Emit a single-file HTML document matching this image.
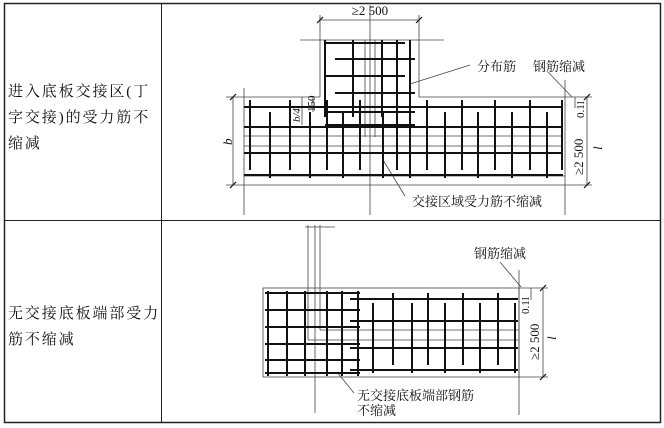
<!DOCTYPE html>
<html><head><meta charset="utf-8"><style>
body{margin:0;background:#fff}
svg{display:block}
text{font-family:"Liberation Serif","Noto Serif CJK SC",serif;fill:#111}
.c{font-family:"Liberation Serif","Noto Serif CJK SC",serif;font-size:15px;letter-spacing:1.9px}
</style></head><body>
<svg width="664" height="428" viewBox="0 0 664 428" xmlns="http://www.w3.org/2000/svg">
<g stroke="#222" fill="none">
<rect x="4.5" y="3.5" width="656" height="419" stroke-width="1.5"/>
<line x1="161.5" y1="3" x2="161.5" y2="423" stroke-width="1"/>
<line x1="4" y1="220.5" x2="660" y2="220.5" stroke-width="1"/>
</g>
<text class="c" x="8" y="96">进入底板交接区(丁</text>
<text class="c" x="8" y="122">字交接)的受力筋不</text>
<text class="c" x="8" y="148">缩减</text>
<text class="c" x="8" y="318">无交接底板端部受力</text>
<text class="c" x="8" y="344">筋不缩减</text>

<!-- top diagram -->
<g stroke="#444" stroke-width="0.8" fill="none">
<line x1="370" y1="5" x2="370" y2="215"/>
<line x1="300" y1="40" x2="444" y2="40"/>
<line x1="320" y1="40" x2="320" y2="97"/>
<line x1="419" y1="40" x2="419" y2="97"/>
<line x1="244" y1="97" x2="320" y2="97"/>
<line x1="419" y1="97" x2="566" y2="97"/>
<line x1="244" y1="88" x2="244" y2="215"/>
<line x1="565" y1="80" x2="565" y2="215"/>
<line x1="244" y1="176" x2="565" y2="176"/>
<line x1="244" y1="185" x2="565" y2="185"/>
<line x1="244" y1="136" x2="563" y2="136"/>
<line x1="244" y1="146" x2="563" y2="146"/>
<line x1="365" y1="40" x2="365" y2="137"/>
<line x1="375" y1="40" x2="375" y2="137"/>
<!-- dims -->
<line x1="320" y1="20" x2="419" y2="20"/>
<line x1="320" y1="15" x2="320" y2="40"/>
<line x1="419" y1="15" x2="419" y2="40"/>
<line x1="233" y1="97" x2="233" y2="185"/>
<line x1="226" y1="97" x2="244" y2="97"/>
<line x1="226" y1="185" x2="244" y2="185"/>
<line x1="587" y1="97" x2="587" y2="185"/>
<line x1="565" y1="97" x2="592" y2="97"/>
<line x1="565" y1="185" x2="592" y2="185"/>
<line x1="575" y1="97" x2="575" y2="108"/>
<line x1="302" y1="97" x2="302" y2="125"/>
<line x1="313" y1="97" x2="313" y2="112"/>
<!-- leaders -->
<line x1="470" y1="65" x2="410" y2="84"/>
<line x1="548" y1="72" x2="572" y2="97"/>
<line x1="383" y1="160" x2="405" y2="196"/>
</g>
<g stroke="#111" stroke-width="1.2">
<line x1="317" y1="23" x2="323" y2="17"/>
<line x1="416" y1="23" x2="422" y2="17"/>
<line x1="230" y1="100" x2="236" y2="94"/>
<line x1="230" y1="188" x2="236" y2="182"/>
<line x1="584" y1="100" x2="590" y2="94"/>
<line x1="584" y1="188" x2="590" y2="182"/>
</g>
<g stroke="#111" stroke-width="2" fill="none">
<line x1="325" y1="43" x2="405" y2="43"/>
<line x1="335" y1="59" x2="415" y2="59"/>
<line x1="325" y1="76" x2="405" y2="76"/>
<line x1="335" y1="93" x2="415" y2="93"/>
<line x1="325" y1="112" x2="415" y2="112"/>
<line x1="325" y1="125" x2="415" y2="125"/>
<line x1="325" y1="40" x2="325" y2="117"/>
<line x1="353" y1="40" x2="353" y2="117"/>
<line x1="382" y1="40" x2="382" y2="117"/>
<line x1="397" y1="40" x2="397" y2="117"/>
<line x1="410" y1="40" x2="410" y2="117"/>
<line x1="244" y1="107" x2="563" y2="107"/>
<line x1="244" y1="127" x2="563" y2="127"/>
<line x1="244" y1="153" x2="563" y2="153"/>
<line x1="244" y1="175" x2="563" y2="175"/>
<line x1="250" y1="100" x2="250" y2="170"/>
<line x1="270" y1="112" x2="270" y2="178"/>
<line x1="290" y1="100" x2="290" y2="170"/>
<line x1="310" y1="112" x2="310" y2="178"/>
<line x1="327" y1="100" x2="327" y2="170"/>
<line x1="343" y1="112" x2="343" y2="178"/>
<line x1="360" y1="100" x2="360" y2="170"/>
<line x1="383" y1="112" x2="383" y2="178"/>
<line x1="397" y1="100" x2="397" y2="170"/>
<line x1="410" y1="112" x2="410" y2="178"/>
<line x1="427" y1="100" x2="427" y2="170"/>
<line x1="445" y1="112" x2="445" y2="178"/>
<line x1="462" y1="100" x2="462" y2="170"/>
<line x1="478" y1="112" x2="478" y2="178"/>
<line x1="495" y1="100" x2="495" y2="170"/>
<line x1="512" y1="112" x2="512" y2="178"/>
<line x1="530" y1="100" x2="530" y2="170"/>
<line x1="547" y1="112" x2="547" y2="178"/>
<line x1="562" y1="100" x2="562" y2="170"/>
</g>
<text x="370" y="15" font-size="13" text-anchor="middle">≥2 500</text>
<text x="477" y="71" font-size="13">分布筋</text>
<text x="533" y="71" font-size="13">钢筋缩减</text>
<text x="412" y="206" font-size="13">交接区域受力筋不缩减</text>
<text transform="translate(232,145) rotate(-90)" font-size="13" font-style="italic">b</text>
<text transform="translate(300,122) rotate(-90)" font-size="11" font-style="italic">b/4</text>
<text transform="translate(315,112) rotate(-90)" font-size="11">150</text>
<text transform="translate(584,118) rotate(-90)" font-size="11">0.1l</text>
<text transform="translate(583,175) rotate(-90)" font-size="13">≥2 500</text>
<text transform="translate(602,150) rotate(-90)" font-size="13" font-style="italic">l</text>

<!-- bottom diagram -->
<g stroke="#444" stroke-width="0.8" fill="none">
<rect x="263" y="288" width="256" height="89"/>
<line x1="519" y1="270" x2="519" y2="415"/>
<line x1="305" y1="227" x2="335" y2="227"/>
<line x1="308" y1="225" x2="308" y2="340"/>
<line x1="308" y1="340" x2="519" y2="340"/>
<line x1="315" y1="225" x2="315" y2="413"/>
<line x1="320" y1="225" x2="320" y2="330"/>
<line x1="320" y1="330" x2="519" y2="330"/>
<line x1="531" y1="288" x2="531" y2="300"/>
<line x1="543" y1="288" x2="543" y2="377"/>
<line x1="519" y1="288" x2="548" y2="288"/>
<line x1="519" y1="377" x2="548" y2="377"/>
<line x1="500" y1="262" x2="521" y2="287"/>
<line x1="337" y1="372" x2="354" y2="393"/>
</g>
<g stroke="#111" stroke-width="1.2">
<line x1="540" y1="291" x2="546" y2="285"/>
<line x1="540" y1="380" x2="546" y2="374"/>
</g>
<g stroke="#111" stroke-width="2" fill="none">
<line x1="265" y1="293" x2="360" y2="293"/>
<line x1="265" y1="310" x2="360" y2="310"/>
<line x1="265" y1="327" x2="360" y2="327"/>
<line x1="265" y1="344" x2="360" y2="344"/>
<line x1="265" y1="360" x2="360" y2="360"/>
<line x1="265" y1="373" x2="360" y2="373"/>
<line x1="268" y1="291" x2="268" y2="376"/>
<line x1="287" y1="291" x2="287" y2="376"/>
<line x1="305" y1="291" x2="305" y2="376"/>
<line x1="327" y1="291" x2="327" y2="376"/>
<line x1="342" y1="291" x2="342" y2="376"/>
<line x1="358" y1="291" x2="358" y2="376"/>
<line x1="350" y1="299" x2="518" y2="299"/>
<line x1="350" y1="321" x2="518" y2="321"/>
<line x1="350" y1="348" x2="518" y2="348"/>
<line x1="350" y1="370" x2="518" y2="370"/>
<line x1="373" y1="303" x2="373" y2="373"/>
<line x1="393" y1="293" x2="393" y2="365"/>
<line x1="412" y1="303" x2="412" y2="373"/>
<line x1="428" y1="293" x2="428" y2="365"/>
<line x1="445" y1="303" x2="445" y2="373"/>
<line x1="463" y1="293" x2="463" y2="365"/>
<line x1="480" y1="303" x2="480" y2="373"/>
<line x1="498" y1="293" x2="498" y2="365"/>
<line x1="515" y1="303" x2="515" y2="373"/>
</g>
<text x="474" y="258" font-size="13">钢筋缩减</text>
<text x="357" y="400" font-size="13">无交接底板端部钢筋</text>
<text x="357" y="415" font-size="13">不缩减</text>
<text transform="translate(529,314) rotate(-90)" font-size="11">0.1l</text>
<text transform="translate(539,360) rotate(-90)" font-size="13">≥2 500</text>
<text transform="translate(556,340) rotate(-90)" font-size="13" font-style="italic">l</text>
</svg>
</body></html>
